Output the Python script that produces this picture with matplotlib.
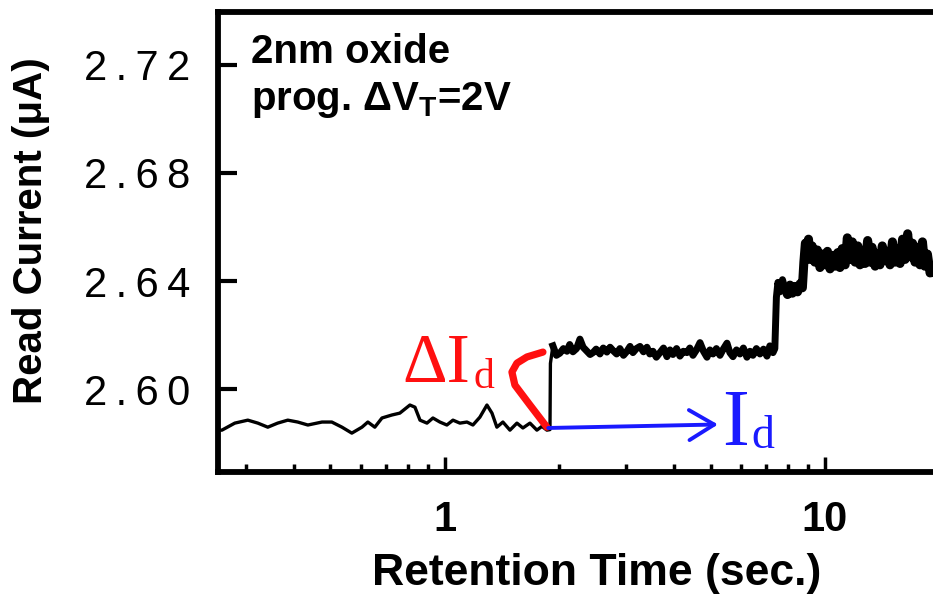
import matplotlib

matplotlib.use("Agg")
import matplotlib.pyplot as plt
import numpy as np
from matplotlib.ticker import FixedLocator, LogLocator, NullFormatter

# read-current trace vs retention time (s)
time_s = [
    0.245, 0.259, 0.280, 0.303, 0.322, 0.342, 0.363, 0.386, 0.410, 0.436,
    0.475, 0.504, 0.536, 0.569, 0.605, 0.627, 0.654, 0.683, 0.725, 0.761,
    0.809, 0.834, 0.860, 0.897, 0.930, 0.970, 1.012, 1.050, 1.095, 1.143,
    1.185, 1.236, 1.290, 1.330, 1.370, 1.421, 1.483, 1.547, 1.604, 1.674,
    1.746, 1.800, 1.855, 1.890,
    1.895, 1.924, 1.965, 2.007, 2.05, 2.095, 2.13, 2.172, 2.22, 2.266,
    2.31, 2.364, 2.41, 2.452, 2.50, 2.558, 2.61, 2.668, 2.72, 2.768,
    2.83, 2.887, 2.95, 3.013, 3.07, 3.124, 3.19, 3.261, 3.33, 3.401,
    3.46, 3.527, 3.60, 3.68, 3.76, 3.839, 3.91, 3.981, 4.07, 4.153,
    4.24, 4.333, 4.41, 4.494, 4.59, 4.69, 4.79, 4.893, 4.98, 5.074,
    5.18, 5.293, 5.40, 5.523, 5.62, 5.727, 5.85, 5.975, 6.10, 6.233,
    6.35, 6.464, 6.60, 6.744, 6.89, 7.037, 7.16, 7.298, 7.38,
    7.45, 7.52, 7.61, 7.73, 7.85, 7.97, 8.09, 8.21, 8.34, 8.47, 8.60, 8.72,
    8.80, 8.88, 8.96, 9.05, 9.13, 9.25, 9.40, 9.55, 9.70, 9.85,
    10.0, 10.15, 10.31, 10.48, 10.63, 10.8, 10.95, 11.1, 11.3, 11.45,
    11.64, 11.8, 12.0, 12.2, 12.36, 12.55, 12.75, 12.95, 13.13, 13.3,
    13.55, 13.75, 13.95, 14.15, 14.4, 14.6, 14.83, 15.05, 15.3, 15.5,
    15.76, 16.0, 16.25, 16.5, 16.74, 17.0, 17.25, 17.5, 17.78, 18.05,
    18.3, 18.6, 18.9, 19.3, 19.6, 20.0,
]
read_current = [
    2.5848, 2.5848, 2.5874, 2.5885, 2.5874, 2.5859, 2.5874, 2.5885, 2.5878, 2.5867,
    2.5878, 2.5878, 2.5859, 2.5837, 2.5859, 2.5878, 2.5859, 2.5893, 2.5904, 2.5911,
    2.5941, 2.5933, 2.5885, 2.5874, 2.5893, 2.5878, 2.5867, 2.5885, 2.5874, 2.5878,
    2.5867, 2.5896, 2.5941, 2.5911, 2.5859, 2.5878, 2.5848, 2.5874, 2.5856, 2.5874,
    2.5848, 2.5862, 2.5848, 2.5850,
    2.6095, 2.6160, 2.6125, 2.6133, 2.6150, 2.6140, 2.6165, 2.6138, 2.6150, 2.6185,
    2.6155, 2.6140, 2.6128, 2.6135, 2.6148, 2.6130, 2.6152, 2.6137, 2.6155, 2.6143,
    2.6130, 2.6150, 2.6125, 2.6140, 2.6158, 2.6135, 2.6150, 2.6158, 2.6138, 2.6155,
    2.6130, 2.6140, 2.6118, 2.6135, 2.6152, 2.6120, 2.6145, 2.6128, 2.6150, 2.6122,
    2.6140, 2.6135, 2.6152, 2.6125, 2.6145, 2.6172, 2.6140, 2.6118, 2.6145, 2.6130,
    2.6150, 2.6125, 2.6148, 2.6170, 2.6135, 2.6120, 2.6145, 2.6130, 2.6152, 2.6118,
    2.6140, 2.6125, 2.6150, 2.6130, 2.6148, 2.6122, 2.6160, 2.6135, 2.6150,
    2.6340, 2.6395, 2.6360, 2.6405, 2.6370, 2.6350, 2.6385, 2.6355, 2.6380, 2.6360, 2.6390, 2.6375,
    2.6470, 2.6540, 2.6520, 2.6555, 2.6480, 2.6530, 2.6470, 2.6515, 2.6450, 2.6500,
    2.6460, 2.6510, 2.6445, 2.6495, 2.6455, 2.6505, 2.6450, 2.6520, 2.6460, 2.6560,
    2.6480, 2.6545, 2.6470, 2.6530, 2.6460, 2.6510, 2.6465, 2.6550, 2.6470, 2.6525,
    2.6455, 2.6500, 2.6460, 2.6530, 2.6475, 2.6510, 2.6460, 2.6545, 2.6470, 2.6520,
    2.6465, 2.6555, 2.6480, 2.6575, 2.6490, 2.6540, 2.6470, 2.6525, 2.6460, 2.6545,
    2.6455, 2.6500, 2.6430, 2.6440, 2.6420, 2.6460,
]
# index where the trace turns into a dense (thick-looking) band
dense_from = 45
denser_from = 117

# red hand-drawn ΔId bracket
bracket_t = [1.855, 1.674, 1.528, 1.501, 1.547, 1.644, 1.811]
bracket_i = [2.5859, 2.5941, 2.6015, 2.6063, 2.6096, 2.6119, 2.6137]

# blue Id arrow (start, end)
arrow_t = [1.87, 5.23]
arrow_i = [2.5856, 2.5869]

yticks = [2.60, 2.64, 2.68, 2.72]
ytick_labels = ["2.60", "2.64", "2.68", "2.72"]
xticks = [1, 10]
xtick_labels = ["1", "10"]

plt.rcParams["font.family"] = ["Liberation Sans", "DejaVu Sans"]
plt.rcParams["mathtext.fontset"] = "custom"
plt.rcParams["mathtext.rm"] = "Liberation Sans"
plt.rcParams["mathtext.bf"] = "Liberation Sans:bold"

fig = plt.figure(figsize=(9.33, 6.06), dpi=100)
ax = fig.add_axes([0.2337, 0.2211, 0.7663, 0.7591])

ax.plot(time_s, read_current, color="black", lw=2.4, solid_joinstyle="round")
ax.plot(time_s[dense_from:], read_current[dense_from:], color="black", lw=5.0,
        solid_joinstyle="round")
ax.plot(time_s[denser_from:], read_current[denser_from:], color="black", lw=6.5,
        solid_joinstyle="round")
ax.plot(bracket_t, bracket_i, color="#ff1010", lw=5.2, solid_capstyle="round",
        solid_joinstyle="round")
ax.annotate("", xy=(arrow_t[1], arrow_i[1]), xytext=(arrow_t[0], arrow_i[0]),
            arrowprops=dict(arrowstyle="->,head_length=0.6,head_width=0.36", color="#1a1aff",
                            lw=2.8, mutation_scale=30, shrinkA=0, shrinkB=0))

ax.set_xscale("log")
ax.set_xlim(0.253, 19.24)
ax.set_ylim(2.5693, 2.7396)

ax.yaxis.set_major_locator(FixedLocator(yticks))
ax.set_yticklabels(["\u2009".join(s) for s in ytick_labels], fontsize=30)
ax.set_xticks(xticks)
ax.set_xticklabels(xtick_labels, fontsize=30, fontweight="bold")
ax.xaxis.set_minor_locator(LogLocator(base=10, subs=np.arange(2, 10)))
ax.xaxis.set_minor_formatter(NullFormatter())

ax.tick_params(axis="y", which="major", direction="in", length=14, width=3, pad=20)
ax.tick_params(axis="x", which="major", direction="in", length=11, width=2.5, pad=20)
ax.tick_params(axis="x", which="minor", direction="in", length=6, width=2.5)

for side in ("left", "bottom", "top"):
    ax.spines[side].set_linewidth(4.2)
ax.spines["right"].set_visible(False)

ax.set_ylabel("Read Current (\u03bcA)", fontsize=29, fontweight="bold")
ax.yaxis.set_label_coords(-0.235, 0.524)
ax.set_xlabel("Retention Time (sec.)", fontsize=32, fontweight="bold")
ax.xaxis.set_label_coords(0.53, -0.175)

ax.text(0.046, 0.889, "2nm oxide", transform=ax.transAxes, fontsize=29,
        fontweight="bold", va="baseline")
ax.text(0.046, 0.787, "prog. \u0394V$_\\mathbf{T}$=2V",
        transform=ax.transAxes, fontsize=29, fontweight="bold", va="baseline")

serif = ["Liberation Serif", "DejaVu Serif"]
ax.text(0.775, 2.6026, "\u0394I", color="#ff1010", fontsize=50, family=serif, va="baseline")
ax.text(1.192, 2.6004, "d", color="#ff1010", fontsize=30, family=serif, va="baseline")
ax.text(5.36, 2.5793, "I", color="#1a1aff", fontsize=58, family=serif, va="baseline")
ax.text(6.39, 2.5781, "d", color="#1a1aff", fontsize=33, family=serif, va="baseline")

fig.savefig("out.png", dpi=100)
